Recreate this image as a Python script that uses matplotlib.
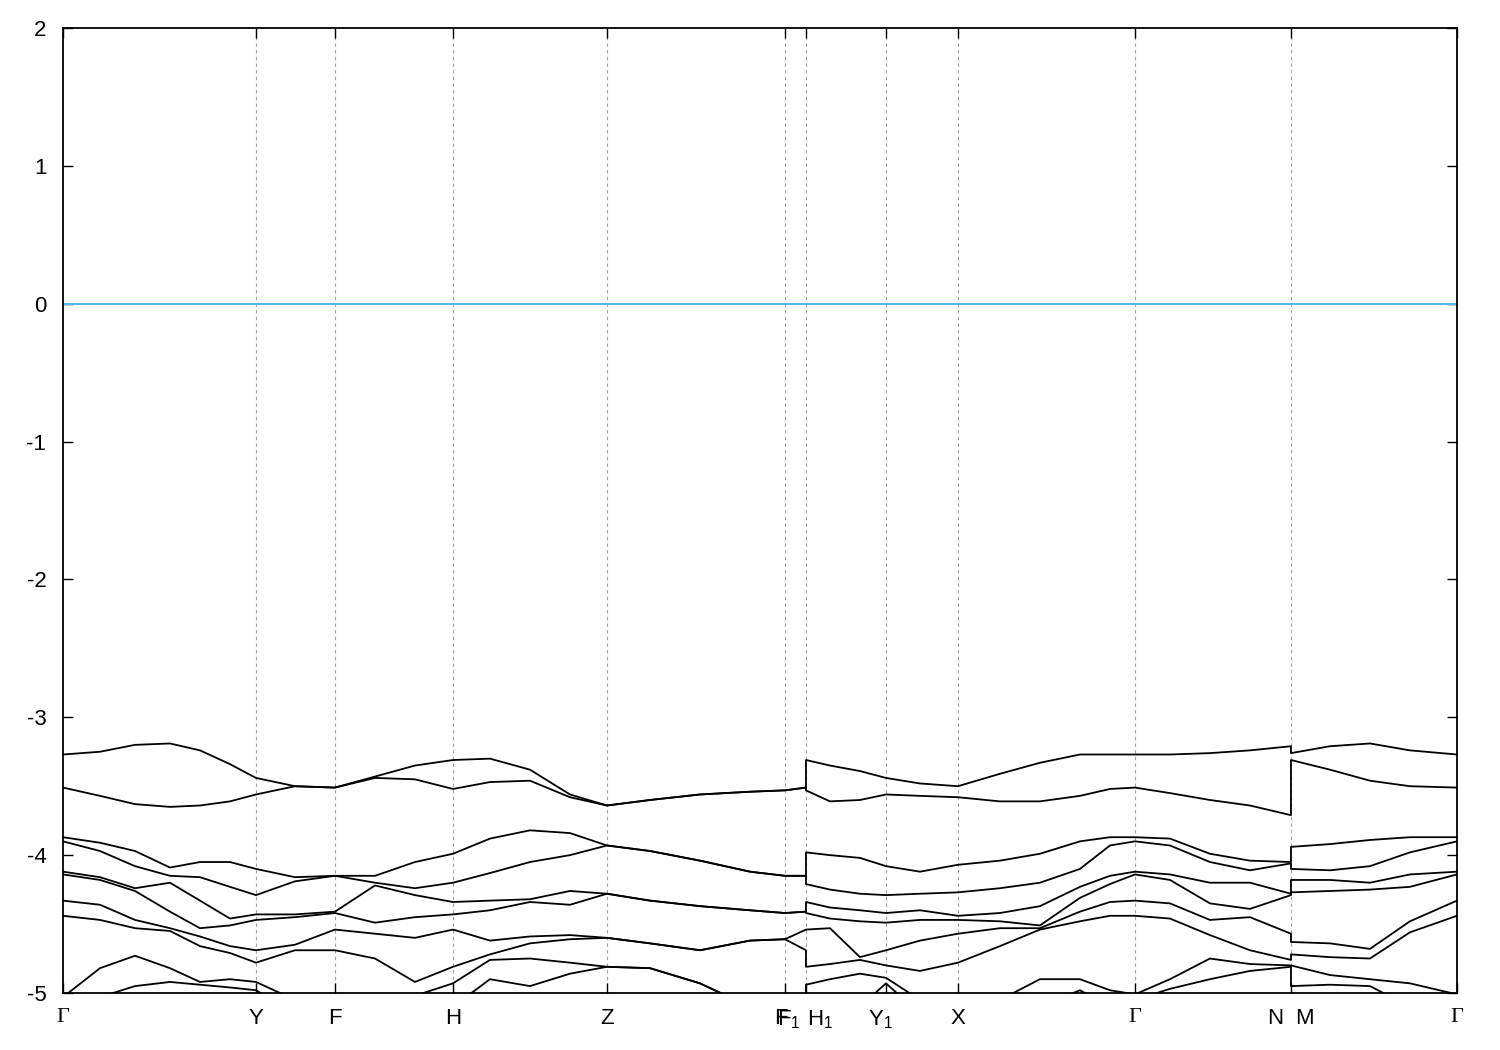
import numpy as np
import matplotlib
matplotlib.use("Agg")
import matplotlib.pyplot as plt
import matplotlib.transforms as mtransforms

plt.rcParams['font.family'] = ['Liberation Sans', 'DejaVu Sans']
plt.rcParams['mathtext.fontset'] = 'custom'
plt.rcParams['mathtext.rm'] = 'Liberation Sans'
plt.rcParams['mathtext.it'] = 'Liberation Sans'

# k-path coordinate (duplicated points = discontinuities in the path)
kpts = [0.0, 0.185, 0.36, 0.535, 0.685, 0.835, 0.965, 1.16, 1.36, 1.56, 1.76,
        1.95, 2.135, 2.335, 2.535, 2.72, 2.935, 3.185, 3.435, 3.61, 3.715, 3.715,
        3.835, 3.985, 4.115, 4.285, 4.475, 4.685, 4.885, 5.085, 5.235, 5.36,
        5.535, 5.735, 5.935, 6.14, 6.14, 6.335, 6.535, 6.735, 6.97]

# band energies (eV), sorted top to bottom
b1 = [-3.27, -3.25, -3.20, -3.19, -3.24, -3.34, -3.44, -3.50, -3.51, -3.43, -3.35,
      -3.31, -3.30, -3.38, -3.56, -3.64, -3.60, -3.56, -3.54, -3.53, -3.51, -3.31,
      -3.35, -3.39, -3.44, -3.48, -3.50, -3.41, -3.33, -3.27, -3.27, -3.27,
      -3.27, -3.26, -3.24, -3.21, -3.26, -3.21, -3.19, -3.24, -3.27]
b2 = [-3.51, -3.57, -3.63, -3.65, -3.64, -3.61, -3.56, -3.50, -3.51, -3.44, -3.45,
      -3.52, -3.47, -3.46, -3.58, -3.64, -3.60, -3.56, -3.54, -3.53, -3.51, -3.53,
      -3.61, -3.60, -3.56, -3.57, -3.58, -3.61, -3.61, -3.57, -3.52, -3.51,
      -3.55, -3.60, -3.64, -3.71, -3.31, -3.38, -3.46, -3.50, -3.51]
b3 = [-3.87, -3.91, -3.97, -4.09, -4.05, -4.05, -4.10, -4.16, -4.15, -4.15, -4.05,
      -3.99, -3.88, -3.82, -3.84, -3.93, -3.97, -4.04, -4.12, -4.15, -4.15, -3.98,
      -4.00, -4.02, -4.08, -4.12, -4.07, -4.04, -3.99, -3.90, -3.87, -3.87,
      -3.88, -3.99, -4.04, -4.05, -3.94, -3.92, -3.89, -3.87, -3.87]
b4 = [-3.90, -3.97, -4.08, -4.15, -4.16, -4.23, -4.29, -4.19, -4.15, -4.20, -4.24,
      -4.20, -4.13, -4.05, -4.00, -3.93, -3.97, -4.04, -4.12, -4.15, -4.15, -4.21,
      -4.25, -4.28, -4.29, -4.28, -4.27, -4.24, -4.20, -4.10, -3.93, -3.90,
      -3.93, -4.05, -4.11, -4.06, -4.10, -4.11, -4.08, -3.98, -3.90]
b5 = [-4.12, -4.16, -4.24, -4.20, -4.33, -4.46, -4.43, -4.43, -4.41, -4.22, -4.29,
      -4.34, -4.33, -4.32, -4.26, -4.28, -4.33, -4.37, -4.40, -4.42, -4.41, -4.34,
      -4.38, -4.40, -4.42, -4.40, -4.44, -4.42, -4.37, -4.23, -4.15, -4.12,
      -4.14, -4.20, -4.20, -4.28, -4.18, -4.18, -4.20, -4.14, -4.12]
b6 = [-4.14, -4.18, -4.26, -4.41, -4.53, -4.51, -4.47, -4.45, -4.42, -4.49, -4.45,
      -4.43, -4.40, -4.34, -4.36, -4.28, -4.33, -4.37, -4.40, -4.42, -4.41, -4.42,
      -4.46, -4.48, -4.49, -4.47, -4.47, -4.48, -4.51, -4.31, -4.21, -4.14,
      -4.18, -4.35, -4.39, -4.29, -4.27, -4.26, -4.25, -4.23, -4.14]
b7 = [-4.33, -4.36, -4.47, -4.53, -4.59, -4.66, -4.69, -4.65, -4.54, -4.57, -4.60,
      -4.54, -4.62, -4.59, -4.58, -4.60, -4.64, -4.69, -4.62, -4.61, -4.54, -4.54,
      -4.53, -4.74, -4.69, -4.62, -4.57, -4.53, -4.53, -4.41, -4.34, -4.33,
      -4.35, -4.47, -4.45, -4.57, -4.63, -4.64, -4.68, -4.48, -4.33]
b8 = [-4.44, -4.47, -4.53, -4.55, -4.66, -4.71, -4.78, -4.69, -4.69, -4.75, -4.92,
      -4.81, -4.72, -4.64, -4.61, -4.60, -4.64, -4.69, -4.62, -4.61, -4.69, -4.81,
      -4.79, -4.76, -4.80, -4.84, -4.78, -4.66, -4.54, -4.48, -4.44, -4.44,
      -4.46, -4.58, -4.69, -4.76, -4.72, -4.74, -4.75, -4.56, -4.44]
b9 = [-5.03, -4.82, -4.73, -4.82, -4.92, -4.90, -4.92, -5.05, -5.10, -5.05, -5.02,
      -4.93, -4.76, -4.75, -4.78, -4.81, -4.82, -4.93, -5.10, -5.15, -5.10, -4.94,
      -4.90, -4.86, -4.89, -5.05, -5.05, -5.05, -4.90, -4.90, -4.98, -5.01,
      -4.90, -4.75, -4.79, -4.80, -4.80, -4.87, -4.90, -4.93, -5.01]
b10 = [-5.15, -5.03, -4.95, -4.92, -4.94, -4.96, -4.98, -5.15, -5.20, -5.15, -5.20,
       -5.10, -4.90, -4.95, -4.86, -4.81, -4.82, -4.93, -5.10, -5.20, -5.20, -5.10,
       -5.10, -5.10, -4.93, -5.15, -5.20, -5.15, -5.10, -4.98, -5.10, -5.05,
       -4.97, -4.90, -4.84, -4.81, -4.95, -4.94, -4.95, -5.10, -5.05]
bands = [b1, b2, b3, b4, b5, b6, b7, b8, b9, b10]

# high-symmetry points
sym_k = [0.0, 0.965, 1.36, 1.95, 2.72, 3.61, 3.715, 4.115, 4.475, 5.36, 6.14, 6.97]
sym_labels = ['Γ', 'Y', 'F', 'H', 'Z', 'F', 'H$_1$', 'Y$_1$', 'X', 'Γ', 'N', 'Γ']
# second labels sharing a point with the one before (path jumps)
extra_k = [3.61, 6.14]
extra_labels = ['F$_1$', 'M']

fig = plt.figure(figsize=(15, 10.5), dpi=100)
ax = fig.add_axes([0.042, 0.0543, 0.9293, 0.919])

for b in bands:
    ax.plot(kpts, b, color='black', lw=1.3, solid_joinstyle='round')

ax.axhline(0, color='#56b4e9', lw=1.5)

for k in sym_k[1:-1]:
    ax.axvline(k, color='#a0a0a0', lw=0.8, ls=(0, (3, 3)), zorder=0)

ax.set_xlim(sym_k[0], sym_k[-1])
ax.set_ylim(-5, 2)
ax.set_yticks(np.arange(-5, 3, 1))
ax.set_yticklabels([str(v) for v in range(-5, 3)])
ax.xaxis.remove_overlapping_locs = False
ax.set_xticks(sym_k)
ax.set_xticklabels(sym_labels)
ax.set_xticks(extra_k, minor=True)
ax.set_xticklabels(extra_labels, minor=True)

ax.tick_params(axis='y', direction='in', length=7, width=1, labelsize=16, pad=12,
               right=True)
ax.tick_params(axis='x', which='major', direction='in', length=7, width=1,
               labelsize=16, pad=11, top=True)
ax.tick_params(axis='x', which='minor', direction='in', length=0,
               labelsize=16, pad=11)

# gnuplot-like nudges of crowded labels, in points
nudge = {('major', 'F', 5): -3, ('major', 'H$_1$', 6): 10, ('major', 'Y$_1$', 7): -4,
         ('major', 'N', 10): -11, ('minor', 'F$_1$', 0): 3, ('minor', 'M', 1): 10}


def shift(lab, dx):
    lab.set_transform(lab.get_transform() +
                      mtransforms.ScaledTranslation(dx / 72, 0, fig.dpi_scale_trans))


for i, lab in enumerate(ax.get_xticklabels()):
    if lab.get_text() == 'Γ':
        lab.set_family('Liberation Serif')
    dx = nudge.get(('major', lab.get_text(), i))
    if dx:
        shift(lab, dx)
for i, lab in enumerate(ax.get_xticklabels(minor=True)):
    dx = nudge.get(('minor', lab.get_text(), i))
    if dx:
        shift(lab, dx)

for s in ax.spines.values():
    s.set_linewidth(1.3)

fig.savefig('out.png', dpi=100)
